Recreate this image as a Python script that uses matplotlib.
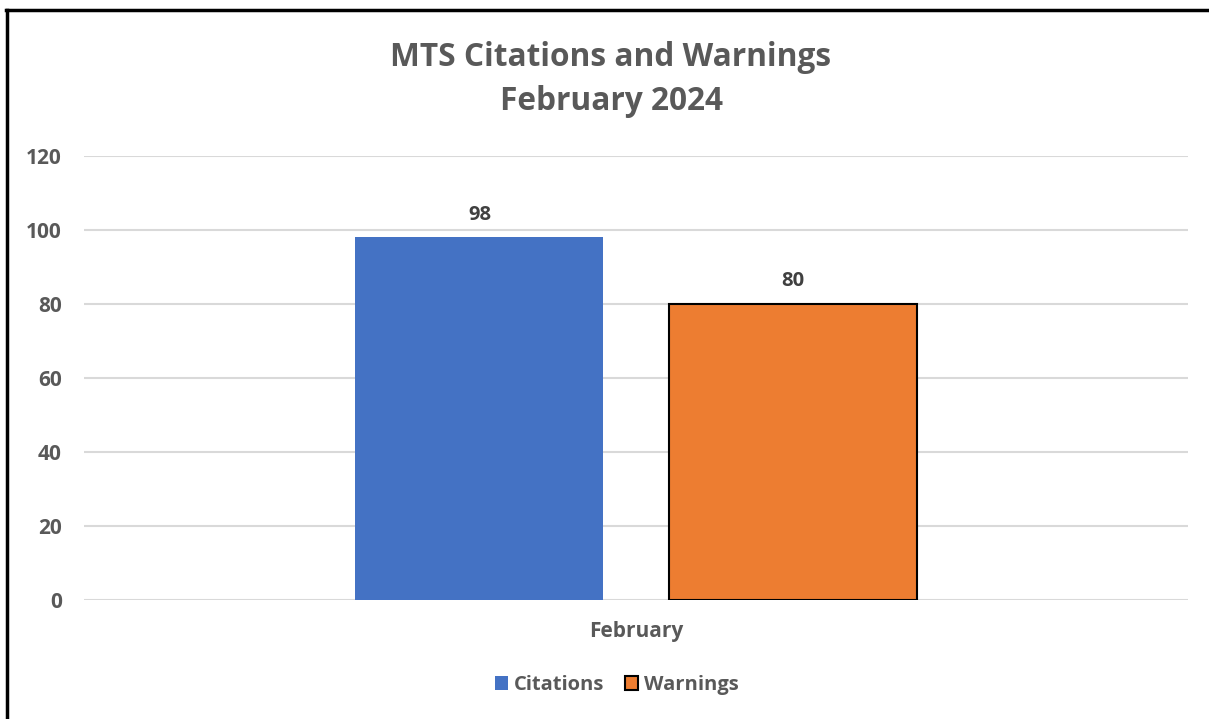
import matplotlib
matplotlib.use("Agg")
import matplotlib.pyplot as plt
from matplotlib.lines import Line2D
import numpy as np

categories = ["February"]
series_names = ["Citations", "Warnings"]
citations = [98]
warnings = [80]
yticks = [0, 20, 40, 60, 80, 100, 120]
title_lines = ["MTS Citations and Warnings", "February 2024"]

plt.rcParams['font.family'] = ['Open Sans', 'DejaVu Sans']

W, H = 1209, 719
fig = plt.figure(figsize=(W / 100, H / 100), dpi=100)
ax = fig.add_axes([84 / W, 1 - 600 / H, (1188 - 84) / W, (600 - 156) / H])

x = np.arange(len(categories))
bw = 0.2246
off = 0.1418
b1 = ax.bar(x - off, citations, bw, color="#4472C4", label=series_names[0], zorder=3)
b2 = ax.bar(x + off, warnings, bw, color="#ED7D31", edgecolor="black", linewidth=1.5,
            label=series_names[1], zorder=3)

for bars in (b1, b2):
    for r in bars:
        ax.annotate(f"{int(r.get_height())}", (r.get_x() + r.get_width() / 2, r.get_height()),
                    xytext=(0, 9), textcoords="offset points", ha="center", va="bottom",
                    fontsize=14.5, fontweight="bold", color="#404040")

ax.set_xlim(-0.5, 0.5)
ax.set_ylim(0, 120)
ax.set_yticks(yticks)
ax.set_xticks(x)
ax.set_xticklabels(categories)
ax.yaxis.grid(True, color="#D9D9D9", linewidth=1.5, zorder=0)
ax.set_axisbelow(True)
for s in ax.spines.values():
    s.set_visible(False)
ax.tick_params(axis="both", length=0, labelsize=15, labelcolor="#595959")
ax.tick_params(axis="y", pad=16)
ax.tick_params(axis="x", pad=15)
for lab in ax.get_xticklabels() + ax.get_yticklabels():
    lab.set_fontweight("bold")

fig.text(611 / W, 1 - 58 / H, title_lines[0], ha="center", va="center",
         fontsize=22.8, fontweight="bold", color="#595959")
fig.text(611 / W, 1 - 102 / H, title_lines[1], ha="center", va="center",
         fontsize=22.8, fontweight="bold", color="#595959")

leg = fig.legend(handles=[b1, b2], labels=series_names, loc="center",
                 bbox_to_anchor=(617 / W, 1 - 685 / H), ncol=2, frameon=False,
                 fontsize=14.5, handlelength=0.65, handleheight=0.65, handletextpad=0.3,
                 columnspacing=1.0, borderpad=0)
for t in leg.get_texts():
    t.set_color("#595959")
    t.set_fontweight("bold")

# outer chart border (top and left visible)
fig.add_artist(Line2D([6 / W, 1.0], [1 - 10 / H, 1 - 10 / H], color="black", linewidth=2.5,
                      transform=fig.transFigure))
fig.add_artist(Line2D([7 / W, 7 / W], [0, 1 - 10 / H], color="black", linewidth=2.5,
                      transform=fig.transFigure))

fig.savefig("out.png", dpi=100)
